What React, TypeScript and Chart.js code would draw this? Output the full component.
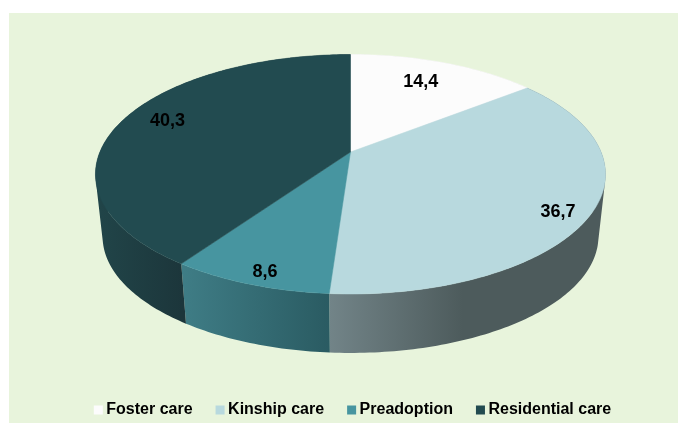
import React, { useEffect, useRef } from "react";
import { Chart, registerables } from "chart.js";

Chart.register(...registerables);

const categories = ["Foster care", "Kinship care", "Preadoption", "Residential care"];
const shares = [14.4, 36.7, 8.6, 40.3];
const shareLabels = ["14,4", "36,7", "8,6", "40,3"];
const topColors = ["#fcfcfc", "#b8d9de", "#4795a0", "#224b50"];
const wallFrom = ["#dddddd", "#728488", "#3f7d86", "#214549"];
const wallTo = ["#cccccc", "#4d5b5c", "#2a5b62", "#1c363b"];
const wallFade = [1, 0.48, 1, 1];
const labelNudge = [[-7, 3], [17, 14], [-8, 19], [0, -4]];

const FONT = "'Liberation Sans', Arial, sans-serif";
const PANEL = "#e8f4dc";

// Perspective projection of the pie's plane
const APEX_X = 350.5;
const APEX_Y = 152;
const AX = 250.6;
const AY = 115.6;
const K = 0.1858;
// Lower rim of the disc
const RIM_SCALE = 0.972;
const RIM_SHIFT = 67.2;

const project = (angle: number, r: number) => {
  const X = Math.cos(angle) * r;
  const Y = Math.sin(angle) * r;
  const w = 1 - K * Y;
  return { x: APEX_X + (AX * X) / w, y: APEX_Y + (AY * Y) / w };
};
const lower = (p: { x: number; y: number }) => ({
  x: APEX_X + RIM_SCALE * (p.x - APEX_X),
  y: p.y * RIM_SCALE + RIM_SHIFT,
});
const rimPoints = (a0: number, a1: number) => {
  const n = Math.max(2, Math.ceil(Math.abs(a1 - a0) * 60));
  const pts = [];
  for (let i = 0; i <= n; i++) pts.push(project(a0 + ((a1 - a0) * i) / n, 1));
  return pts;
};

const pie3d = {
  id: "pie3d",
  beforeDraw(chart: any) {
    const { ctx, width, height } = chart;
    ctx.save();
    ctx.fillStyle = PANEL;
    ctx.fillRect(9, 13, width - 9, height - 13);
    ctx.restore();
  },
  beforeDatasetsDraw(chart: any) {
    const { ctx } = chart;
    const arcs = chart.getDatasetMeta(0).data;
    ctx.save();
    // walls: one quad per rim step, all wound the same way so the union keeps the silhouette
    arcs.forEach((arc: any, i: number) => {
      const pts = rimPoints(arc.startAngle, arc.endAngle);
      const low = pts.map(lower);
      const front = pts.filter((_: any, j: number) => {
        const a = arc.startAngle + ((arc.endAngle - arc.startAngle) * j) / (pts.length - 1);
        return Math.sin(a) > -0.05;
      });
      const xs = (front.length ? front : pts).map((p: any) => p.x);
      const x0 = Math.min(...xs);
      const x1 = x0 + (Math.max(...xs) - x0) * wallFade[i];
      const g = ctx.createLinearGradient(x0, 0, x1 + 1, 0);
      g.addColorStop(0, wallFrom[i]);
      g.addColorStop(1, wallTo[i]);
      ctx.beginPath();
      for (let j = 0; j + 1 < pts.length; j++) {
        let q = [pts[j], pts[j + 1], low[j + 1], low[j]];
        let area = 0;
        q.forEach((p: any, m: number) => {
          const n = q[(m + 1) % 4];
          area += p.x * n.y - n.x * p.y;
        });
        if (area < 0) q = q.reverse();
        q.forEach((p: any, m: number) => (m ? ctx.lineTo(p.x, p.y) : ctx.moveTo(p.x, p.y)));
        ctx.closePath();
      }
      ctx.fillStyle = g;
      ctx.fill("nonzero");
    });
    // top faces
    arcs.forEach((arc: any, i: number) => {
      const pts = rimPoints(arc.startAngle, arc.endAngle);
      ctx.beginPath();
      ctx.moveTo(APEX_X, APEX_Y);
      pts.forEach((p: any) => ctx.lineTo(p.x, p.y));
      ctx.closePath();
      ctx.fillStyle = topColors[i];
      ctx.fill();
      ctx.strokeStyle = topColors[i];
      ctx.lineWidth = 0.5;
      ctx.stroke();
    });
    // value labels
    ctx.fillStyle = "#000";
    ctx.font = `bold 18px ${FONT}`;
    ctx.textAlign = "center";
    ctx.textBaseline = "middle";
    arcs.forEach((arc: any, i: number) => {
      const p = project((arc.startAngle + arc.endAngle) / 2, 0.8);
      ctx.fillText(shareLabels[i], p.x + labelNudge[i][0], p.y + labelNudge[i][1]);
    });
    // legend
    ctx.font = `bold 16px ${FONT}`;
    ctx.textAlign = "left";
    const box = 9;
    const gap = 3.5;
    const sep = 23;
    const widths = categories.map((c) => ctx.measureText(c).width);
    const total = widths.reduce((a, b) => a + b + box + gap, 0) + sep * (categories.length - 1);
    let x = 352.5 - total / 2;
    categories.forEach((c, i) => {
      ctx.fillStyle = topColors[i];
      ctx.fillRect(x, 405.5, box, box);
      ctx.fillStyle = "#000";
      ctx.fillText(c, x + box + gap, 410);
      x += box + gap + widths[i] + sep;
    });
    ctx.restore();
    return false;
  },
};

export default function App() {
  const ref = useRef<HTMLCanvasElement>(null);
  useEffect(() => {
    const chart = new Chart(ref.current as HTMLCanvasElement, {
      type: "pie",
      data: {
        labels: categories,
        datasets: [{ data: shares, backgroundColor: topColors, borderWidth: 0 }],
      },
      options: {
        animation: false,
        responsive: false,
        events: [],
        plugins: { legend: { display: false }, tooltip: { enabled: false } },
      },
      plugins: [pie3d],
    } as any);
    return () => chart.destroy();
  }, []);
  return (
    <canvas
      ref={ref}
      width={678}
      height={423}
      style={{ position: "absolute", left: 0, top: 0, display: "block" }}
    />
  );
}
